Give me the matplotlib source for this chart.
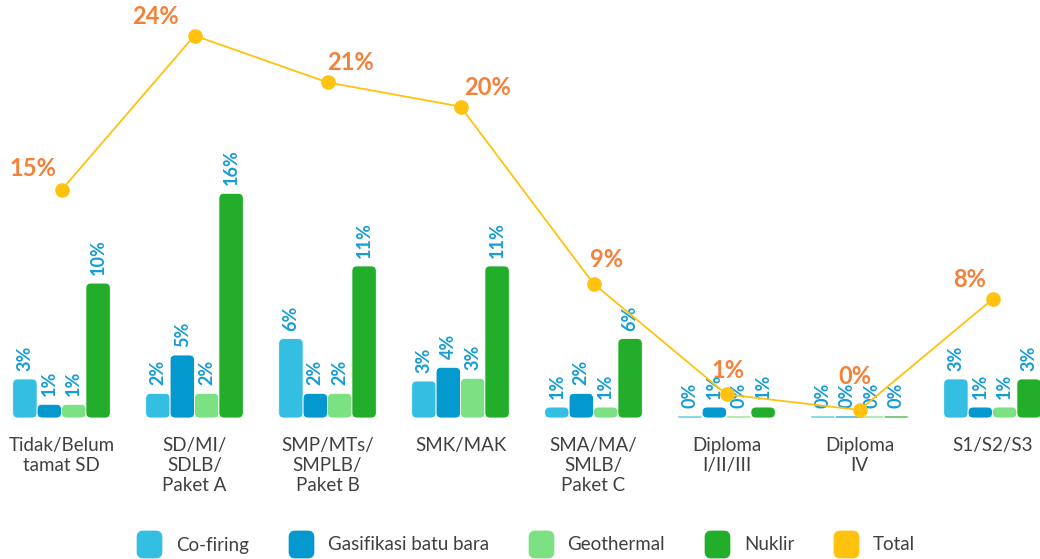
import matplotlib
matplotlib.use("Agg")
import matplotlib.pyplot as plt
import matplotlib.patches as mpatches
from matplotlib.lines import Line2D
import numpy as np

plt.rcParams['font.family'] = ['Lato', 'DejaVu Sans']

# ---------------- data ----------------
categories = ["Tidak/Belum\ntamat SD", "SD/MI/\nSDLB/\nPaket A", "SMP/MTs/\nSMPLB/\nPaket B",
              "SMK/MAK", "SMA/MA/\nSMLB/\nPaket C", "Diploma\nI/II/III", "Diploma\nIV", "S1/S2/S3"]
series_names = ["Co-firing", "Gasifikasi batu bara", "Geothermal", "Nuklir"]
cofiring    = [2.85, 1.8, 5.8, 2.7, 0.8, 0.0, 0.0, 2.85]
gasifikasi  = [1.0, 4.6, 1.8, 3.7, 1.8, 0.8, 0.0, 0.8]
geothermal  = [1.0, 1.8, 1.8, 2.9, 0.8, 0.0, 0.0, 0.8]
nuklir      = [9.85, 16.4, 11.1, 11.1, 5.8, 0.8, 0.0, 2.85]
total       = [14.55, 24.45, 21.45, 19.9, 8.55, 1.45, 0.45, 7.55]

# ---------------- style ----------------
bar_colors = ["#34BEE2", "#0399CF", "#7BE182", "#22AE2A"]
total_color = "#FFC20E"
bar_label_color = "#169CD6"
total_label_color = "#F4813A"
text_color = "#404040"
# label offsets (pixels) for total labels
total_label_offsets = [(-29, 22), (-39, 19), (23, 20), (27, 19), (13, 24), (1, 24), (-5, 33), (-23, 20)]

W, H = 1040, 559
fig = plt.figure(figsize=(W / 100, H / 100), dpi=100)
baseline_px = 418
ax = fig.add_axes([0, (H - baseline_px) / H, 1, baseline_px / H])
ax2 = ax.twinx()

spacing_px = 133.0
first_px = 61.5
xmin = -first_px / spacing_px
xmax = (W - first_px) / spacing_px
px_per_unit_bar = 13.7
ymax = baseline_px / px_per_unit_bar
ax.set_xlim(xmin, xmax)
ax.set_ylim(0, ymax)

x_units_per_px = (xmax - xmin) / W
y_units_per_px = ymax / baseline_px
aspect = y_units_per_px / x_units_per_px

bar_w = 24.4 * x_units_per_px
radius = 5 * x_units_per_px
min_h = 2 * y_units_per_px

x = np.arange(len(categories))
all_series = [cofiring, gasifikasi, geothermal, nuklir]
for si, (vals, col) in enumerate(zip(all_series, bar_colors)):
    xs = x + (si - 1.5) * bar_w
    heights = [max(v, min_h) for v in vals]
    bars = ax.bar(xs, heights, width=bar_w, color=col)
    for b in bars:
        bx, by = b.get_x(), b.get_y()
        bw, bh = b.get_width(), b.get_height()
        b.set_visible(False)
        r = min(radius, bh / aspect / 2, bw / 2)
        fb = mpatches.FancyBboxPatch((bx, by), bw, bh,
                                     boxstyle=f"round,pad=0,rounding_size={r}",
                                     mutation_aspect=aspect, facecolor=col,
                                     edgecolor="white", linewidth=0.6, zorder=2)
        ax.add_patch(fb)
    for xi, v, h in zip(xs, vals, heights):
        ax.annotate(f"{v:.0f}%", (xi, h), xytext=(0, 8), textcoords="offset pixels",
                    rotation=90, ha="center", va="bottom", fontsize=13,
                    fontweight="bold", color=bar_label_color, zorder=3)

# total line on its own scale
k_tot = 15.6
b_off = 1.0
ax2.set_ylim(-b_off / k_tot, (baseline_px - b_off) / k_tot)
ax2.plot(x, total, color=total_color, lw=1.3, marker="o", markersize=9.5,
         markerfacecolor=total_color, markeredgecolor=total_color, zorder=5, clip_on=False)
for xi, v, off in zip(x, total, total_label_offsets):
    ax2.annotate(f"{round(v)}%", (xi, v), xytext=off, textcoords="offset pixels",
                 ha="center", va="center", fontsize=17, fontweight="bold",
                 color=total_label_color, zorder=6, annotation_clip=False)

for a in (ax, ax2):
    for s in a.spines.values():
        s.set_visible(False)
    a.set_yticks([])
    a.patch.set_visible(False)
ax.set_xticks(x)
ax.set_xticklabels(categories, fontsize=13.5, color=text_color, linespacing=1.2)
ax.tick_params(axis="x", length=0, pad=14)

# legend with rounded-square markers
rr = mpatches.FancyBboxPatch((-0.46, -0.5), 0.92, 1.0,
                             boxstyle="round,pad=0,rounding_size=0.22").get_path()
handles = [Line2D([], [], ls="", marker=rr, markersize=19, color=c) for c in bar_colors]
handles.append(Line2D([], [], ls="", marker=rr, markersize=19, color=total_color))
labels = series_names + ["Total"]
fig.legend(handles, labels, loc="center", bbox_to_anchor=(0.506, 14 / H), ncol=5,
           frameon=False, fontsize=13.5, handlelength=1.25, handletextpad=0.8,
           columnspacing=2.15, labelcolor=text_color, borderaxespad=0, borderpad=0)

fig.savefig("out.png", dpi=100)
